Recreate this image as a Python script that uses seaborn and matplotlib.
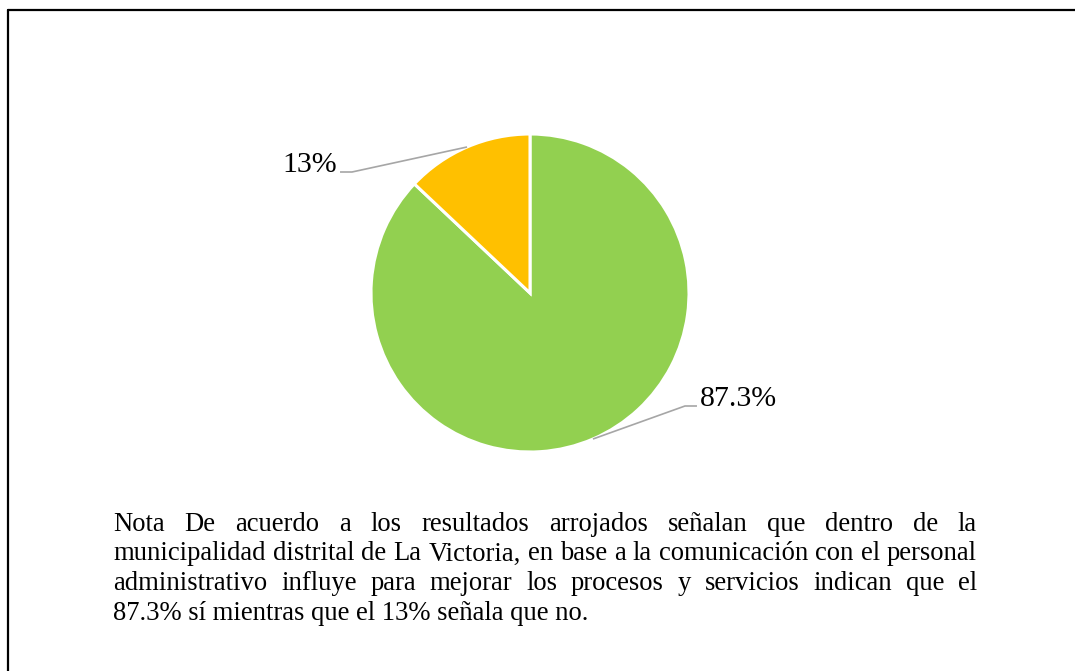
import matplotlib
matplotlib.use("Agg")
import numpy as np
import matplotlib.pyplot as plt
import seaborn as sns

# data
categories = ["Sí", "No"]
values = [87.3, 13]
value_labels = ["87.3%", "13%"]
slice_colors = ["#92D050", "#FFC000"]
note_lines = [
    "Nota De acuerdo a los resultados arrojados señalan que dentro de la",
    "municipalidad distrital de La Victoria, en base a la comunicación con el personal",
    "administrativo influye para mejorar los procesos y servicios indican que el",
    "87.3% sí mientras que el 13% señala que no.",
]

sns.set_theme(style="white")
plt.rcParams['font.family'] = ['Liberation Serif', 'DejaVu Serif']
plt.rcParams['text.color'] = 'black'

W, H = 1075, 671
fig = plt.figure(figsize=(W / 100, H / 100), dpi=100)
ax = fig.add_axes([0, 0, 1, 1])

cx, cy, r = 530, H - 293, 159
wedges, _ = ax.pie(values, colors=slice_colors, startangle=90, counterclock=False,
                   center=(cx, cy), radius=r,
                   wedgeprops=dict(edgecolor='white', linewidth=2.2))
ax.set_xlim(0, W)
ax.set_ylim(0, H)
ax.set_aspect('equal')
ax.set_axis_off()

# leader lines + labels (elbow offsets in pixels)
offsets = [(92, 33, 1), (-115, -25, -1)]
for w, lab, (dx, dy, side) in zip(wedges, value_labels, offsets):
    mid = np.deg2rad((w.theta1 + w.theta2) / 2)
    x0, y0 = cx + r * np.cos(mid), cy + r * np.sin(mid)
    x1, y1 = x0 + dx, y0 + dy
    x2 = x1 + 12 * side
    ax.plot([x0, x1, x2], [y0, y1, y1], color='#A6A6A6', lw=1.2, solid_capstyle='butt')
    ax.text(x2 + 3 * side, y1, lab, fontsize=21.5, ha='left' if side > 0 else 'right',
            va='baseline', color='black')

# frame (top and left only visible)
ax.plot([8, W], [H - 10, H - 10], color='black', lw=1.6)
ax.plot([8, 8], [0, H - 10], color='black', lw=1.6)

# justified note
renderer = fig.canvas.get_renderer()
left, right = 113, 977
fs = 19.2
for i, line in enumerate(note_lines):
    yb = H - 531 - i * 29.5
    if i == len(note_lines) - 1:
        ax.text(left, yb, line, fontsize=fs, ha='left', va='baseline', color='black')
        continue
    words = line.split()
    texts = [ax.text(0, yb, wd, fontsize=fs, ha='left', va='baseline', color='black')
             for wd in words]
    widths = [t.get_window_extent(renderer).width for t in texts]
    gap = (right - left - sum(widths)) / (len(words) - 1)
    x = left
    for t, wdt in zip(texts, widths):
        t.set_x(x)
        x += wdt + gap

fig.savefig("out.png", dpi=100)
